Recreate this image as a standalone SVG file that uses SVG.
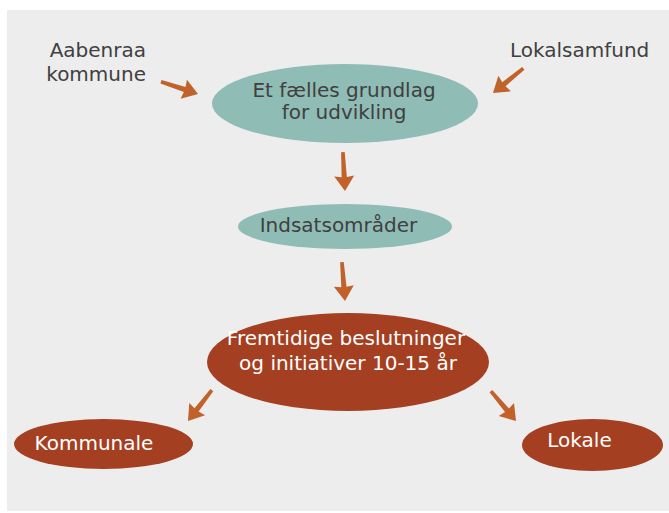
<svg xmlns="http://www.w3.org/2000/svg" xmlns:xlink="http://www.w3.org/1999/xlink" width="669" height="513" viewBox="0 0 669 513">
<style>
.teal{fill:#8FBCB5}
.red{fill:#A43F22}
.dk{font-family:"DejaVu Sans","Liberation Sans",sans-serif;font-size:20px;fill:#404040}
.wt{font-family:"DejaVu Sans","Liberation Sans",sans-serif;font-size:20px;fill:#FFFFFF}
.arr{fill:#C0622A}
</style>
<defs>
<path id="a" d="M0,0 L-15,-10 L-14,-2.6 L-39,-1.8 L-39,1.8 L-14,2.6 L-15,10 Z"/>
</defs>
<rect x="7" y="10" width="662" height="501" fill="#EDEDED"/>
<g id="label-aabenraa">
<text class="dk" x="146" y="57" text-anchor="end">Aabenraa</text>
<text class="dk" x="146" y="81" text-anchor="end">kommune</text>
</g>
<g id="label-lokalsamfund">
<text class="dk" x="510" y="57">Lokalsamfund</text>
</g>
<g id="node-grundlag">
<ellipse class="teal" cx="345" cy="103.5" rx="133" ry="39.5"/>
<text class="dk" x="344" y="97" text-anchor="middle">Et fælles grundlag</text>
<text class="dk" x="344" y="119" text-anchor="middle">for udvikling</text>
</g>
<g id="node-indsats">
<ellipse class="teal" cx="345" cy="226.5" rx="107" ry="22.5"/>
<text class="dk" x="338.5" y="232" text-anchor="middle" font-size="21.5">Indsatsområder</text>
</g>
<g id="node-fremtidige">
<ellipse class="red" cx="348" cy="362" rx="141" ry="49"/>
<text class="wt" x="346" y="345" text-anchor="middle">Fremtidige beslutninger</text>
<text class="wt" x="348" y="370" text-anchor="middle">og initiativer 10-15 år</text>
</g>
<g id="node-kommunale">
<ellipse class="red" cx="103.5" cy="444" rx="89.5" ry="25"/>
<text class="wt" x="94" y="450" text-anchor="middle">Kommunale</text>
</g>
<g id="node-lokale">
<ellipse class="red" cx="592.5" cy="445" rx="70.5" ry="26"/>
<text class="wt" x="579.5" y="447" text-anchor="middle">Lokale</text>
</g>
<g id="connectors" class="arr">
<use xlink:href="#a" transform="translate(198,94) rotate(18.4)"/>
<use xlink:href="#a" transform="translate(493,93) rotate(141)"/>
<use xlink:href="#a" transform="translate(345,191) rotate(86.9)"/>
<use xlink:href="#a" transform="translate(345,301) rotate(85.5)"/>
<use xlink:href="#a" transform="translate(188,421) rotate(127.7)"/>
<use xlink:href="#a" transform="translate(516,421) rotate(50)"/>
</g>
</svg>
